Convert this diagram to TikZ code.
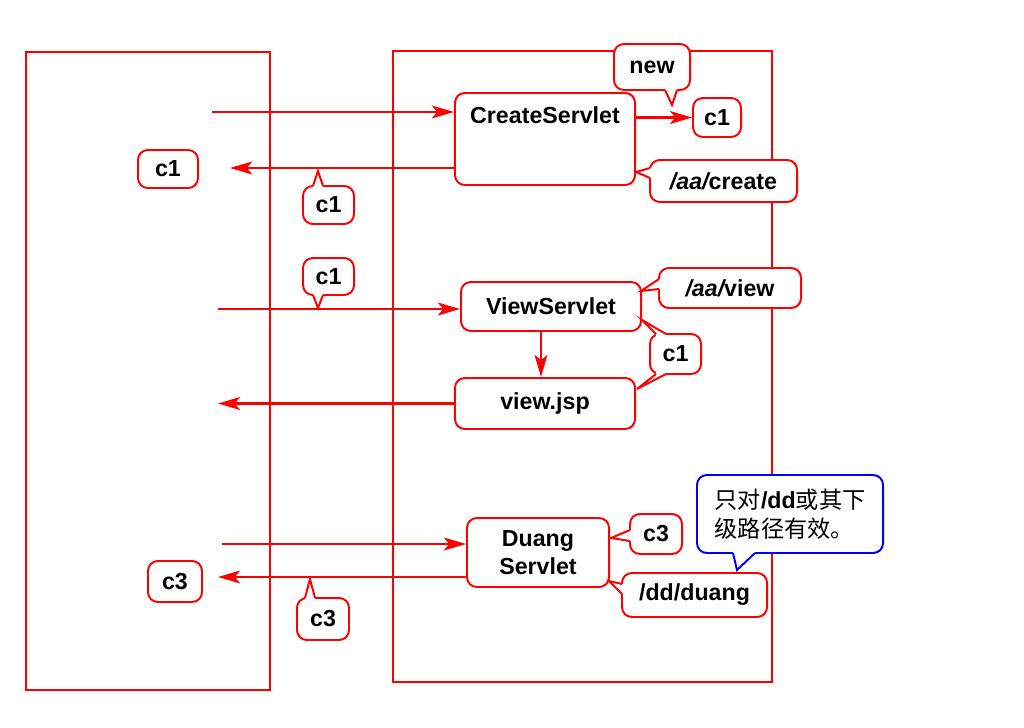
\documentclass[tikz,border=0pt]{standalone}
\usepackage{fontspec}
\setmainfont{Liberation Sans}
\newfontfamily\cjk{Noto Sans CJK SC}
\usetikzlibrary{arrows.meta,calc}

\tikzset{
  frame/.style={draw=red, line width=2.1pt},
  servlet/.style={draw=red, line width=1.4pt, rounded corners=7pt, fill=white, inner sep=0pt,
    font=\fontsize{16.5}{20}\selectfont\bfseries, align=center},
  lbl/.style={font=\fontsize{16.5}{20}\selectfont\bfseries, inner sep=0pt},
  flow/.style={red, line width=1.8pt, -{Stealth[length=0.55cm,width=0.32cm,inset=0.13cm]}},
  bubble/.style={draw=red, line width=1.4pt, rounded corners=7pt, fill=white, inner sep=0pt,
    font=\fontsize{16.5}{20}\selectfont\bfseries, align=center},
  tipline/.style={line width=1.4pt, line join=miter},
}

% bubble pointer: [colour]{base 1}{tip}{base 2}{shift into the bubble}
\newcommand{\bubbletip}[5][red]{%
  \fill[white] ($#2+#5$) -- #2 -- #3 -- #4 -- ($#4+#5$) -- cycle;
  \draw[tipline, draw=#1] #2 -- #3 -- #4;}
\newcommand{\pathpart}[1]{{\itshape #1}}

\begin{document}
\begin{tikzpicture}[x=0.025cm, y=-0.025cm]
\useasboundingbox (0,0) rectangle (1024,728);

% =============================
% browser and server
% =============================
\draw[frame] (26,52) rectangle (270,690);
\draw[frame] (393,51) rectangle (772,682);

% =============================
% CreateServlet: new cookie c1
% =============================
\node[servlet, minimum width=4.5cm, minimum height=2.3cm] (create) at (545,139) {};
\node[lbl] (createtxt) at (545,115) {CreateServlet};
\node[servlet, minimum width=1.2cm, minimum height=0.975cm] (newc1) at (717,117.5) {c1};
\node[servlet, minimum width=1.5cm, minimum height=0.95cm] (backc1) at (168,169) {c1};
\coordinate (in1) at (212,112);
\coordinate (out1) at (230,168);

\draw[flow] (in1) -- (create.west |- in1);
\draw[flow] (create.east |- newc1) -- (newc1);
\draw[flow] (create.west |- out1) -- (out1);

\node[bubble, minimum width=1.9cm, minimum height=1.15cm] (newnote) at (652,67) {new};
\bubbletip{(665,90)}{(672,105)}{(677,90)}{(0,-3)}
\node[bubble, minimum width=3.675cm, minimum height=1.05cm] (createpath) at (723.5,181) {\pathpart{/aa/}create};
\bubbletip{(650,168)}{(636,172)}{(650,178)}{(3,0)}
\node[bubble, minimum width=1.275cm, minimum height=0.95cm] (resp1) at (328.5,205) {c1};
\bubbletip{(313,186)}{(318,171)}{(323,186)}{(0,3)}

% =============================
% ViewServlet -> view.jsp
% =============================
\node[servlet, minimum width=4.5cm, minimum height=1.225cm] (view) at (551,306.5) {ViewServlet};
\node[servlet, minimum width=4.5cm, minimum height=1.275cm] (jsp) at (545,403.5) {view.jsp};
\coordinate (in2) at (218,309);
\coordinate (out2) at (218,403.5);

\draw[flow] (in2) -- (view.west |- in2);
\draw[flow] (view.south -| 541,0) -- (jsp.north -| 541,0);
\draw[flow] (jsp.west) -- (out2);

\node[bubble, minimum width=1.275cm, minimum height=0.925cm] (req1) at (328.5,276.5) {c1};
\bubbletip{(313,295)}{(318,308)}{(323,295)}{(0,-3)}
\node[bubble, minimum width=3.55cm, minimum height=1.0cm] (viewpath) at (730,288) {\pathpart{/aa/}view};
\bubbletip{(659,279)}{(641,291)}{(659,289)}{(3,0)}
\node[bubble, minimum width=1.275cm, minimum height=1.0cm] (fwd1) at (675.5,354) {c1};
\bubbletip{(656,334)}{(642,320)}{(666,334)}{(0,3)}
\bubbletip{(656,374)}{(637,389)}{(666,374)}{(0,-3)}

% =============================
% DuangServlet: cookie c3
% =============================
\node[servlet, minimum width=3.55cm, minimum height=1.725cm] (duang) at (538,552.5) {Duang\\Servlet};
\node[servlet, minimum width=1.35cm, minimum height=1.025cm] (backc3) at (175,581.5) {c3};
\coordinate (in3) at (222,544);
\coordinate (out3) at (218,577);

\draw[flow] (in3) -- (duang.west |- in3);
\draw[flow] (duang.west |- out3) -- (out3);

\node[bubble, minimum width=1.3cm, minimum height=1.0cm] (newc3) at (656,534) {c3};
\bubbletip{(630,530)}{(611,538)}{(630,541)}{(3,0)}
\node[bubble, minimum width=3.625cm, minimum height=1.1cm] (duangpath) at (694.5,595) {/dd/duang};
\bubbletip{(622,584)}{(609,581)}{(622,594)}{(3,0)}
\node[bubble, minimum width=1.3cm, minimum height=1.05cm] (resp3) at (323,619) {c3};
\bubbletip{(305,598)}{(310,579)}{(315,598)}{(0,3)}

% scope note
\node[bubble, draw=blue, align=left, minimum width=4.65cm, minimum height=1.95cm,
  font=\fontsize{16.5}{20.6}\selectfont\bfseries] (scopenote) at (790,514)
  {{\mdseries\cjk 只对}/dd{\mdseries\cjk 或其下}\\{\mdseries\cjk 级路径有效。}};
\bubbletip[blue]{(733,553)}{(737,570)}{(755,553)}{(0,-3)}

\end{tikzpicture}
\end{document}
